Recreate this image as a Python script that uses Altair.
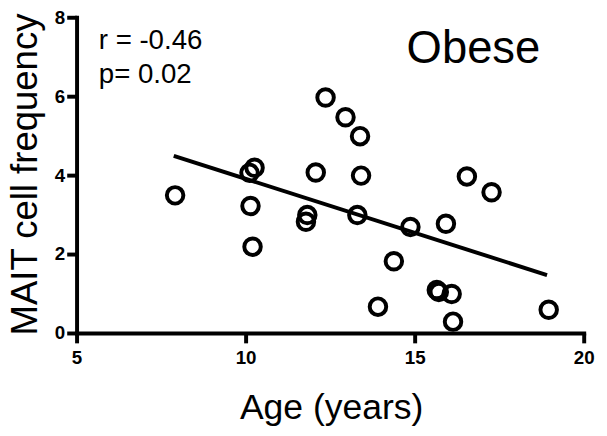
import altair as alt
import pandas as pd

# Data
age = [7.9, 10.1, 10.25, 10.13, 10.19, 12.06, 11.81, 11.77, 12.35, 12.94, 13.37, 13.4,
       13.29, 14.86, 14.37, 15.91, 13.9, 15.64, 15.7, 16.08, 16.12, 18.95, 16.53, 17.26]
mait = [3.5, 4.07, 4.2, 3.23, 2.2, 4.08, 3.0, 2.83, 5.98, 5.48, 5.0, 4.0,
        3.0, 2.7, 1.83, 2.78, 0.68, 1.1, 1.05, 1.0, 0.3, 0.6, 3.98, 3.58]

fit_age = [7.86, 18.9]
fit_mait = [4.5, 1.48]

x_ticks = [5, 10, 15, 20]
y_ticks = [0, 2, 4, 6, 8]

x_title = "Age (years)"
y_title = "MAIT cell frequency"
group_label = "Obese"
r_label = "r = -0.46"
p_label = "p= 0.02"

FONT = "Liberation Sans"
W, H = 514, 320

pts = pd.DataFrame({"age": age, "mait": mait})
fit = pd.DataFrame({"age": fit_age, "mait": fit_mait})
xt = pd.DataFrame({"v": x_ticks, "lab": [str(v) for v in x_ticks]})
yt = pd.DataFrame({"v": y_ticks, "lab": [str(v) for v in y_ticks]})
xdom = pd.DataFrame({"x": [x_ticks[0]], "x2": [x_ticks[-1]], "y": [y_ticks[0]]})
ydom = pd.DataFrame({"x": [x_ticks[0]], "y": [y_ticks[0]], "y2": [y_ticks[-1]]})

xscale = alt.Scale(domain=[x_ticks[0], x_ticks[-1]], nice=False, zero=False)
yscale = alt.Scale(domain=[y_ticks[0], y_ticks[-1]], nice=False)

def X(f):
    return alt.X(f, scale=xscale, axis=None)

def Y(f):
    return alt.Y(f, scale=yscale, axis=None)

points = alt.Chart(pts).mark_point(
    shape="circle", filled=False, size=280, strokeWidth=4, color="black", opacity=1
).encode(x=X("age:Q"), y=Y("mait:Q"))

line = alt.Chart(fit).mark_line(color="black", strokeWidth=4).encode(
    x=X("age:Q"), y=Y("mait:Q"))

# axes drawn through the same scales
x_domain = alt.Chart(xdom).mark_rule(color="black", strokeWidth=4, strokeCap="square").encode(
    x=X("x:Q"), x2="x2:Q", y=Y("y:Q"))
y_domain = alt.Chart(ydom).mark_rule(color="black", strokeWidth=4, strokeCap="square").encode(
    x=X("x:Q"), y=Y("y:Q"), y2="y2:Q")
x_tickmarks = alt.Chart(xt).mark_rule(color="black", strokeWidth=4).encode(
    x=X("v:Q"), y=alt.value(H), y2=alt.value(H + 10))
y_tickmarks = alt.Chart(yt).mark_rule(color="black", strokeWidth=4).encode(
    y=Y("v:Q"), x=alt.value(-10), x2=alt.value(0))
x_labels = alt.Chart(xt).mark_text(
    font=FONT, fontSize=19, fontWeight="bold", align="center", baseline="top", color="black"
).encode(x=X("v:Q"), y=alt.value(H + 16), text="lab:N")
y_labels = alt.Chart(yt).mark_text(
    font=FONT, fontSize=19, fontWeight="bold", align="right", baseline="middle", color="black"
).encode(y=Y("v:Q"), x=alt.value(-12), text="lab:N")

def label(txt, x, y, size, align="left", angle=0):
    return alt.Chart(pd.DataFrame({"t": [txt]})).mark_text(
        font=FONT, fontSize=size, align=align, baseline="alphabetic",
        color="black", angle=angle
    ).encode(text="t:N", x=alt.value(x), y=alt.value(y))

chart = alt.layer(
    x_domain, y_domain, x_tickmarks, y_tickmarks, x_labels, y_labels,
    line, points,
    label(group_label, 334, 46, 46),
    label(r_label, 22, 32, 28),
    label(p_label, 22, 66, 28),
    label(x_title, 258, H + 87, 36, align="center"),
    label(y_title, -41, 322, 37, align="left", angle=270),
).properties(
    width=W, height=H,
    autosize=alt.AutoSizeParams(type="none"),
    padding={"left": 70, "top": 7, "right": 15, "bottom": 100},
).configure_view(stroke=None)

chart.save("out.html", embed_options={"renderer": "svg", "actions": False})
